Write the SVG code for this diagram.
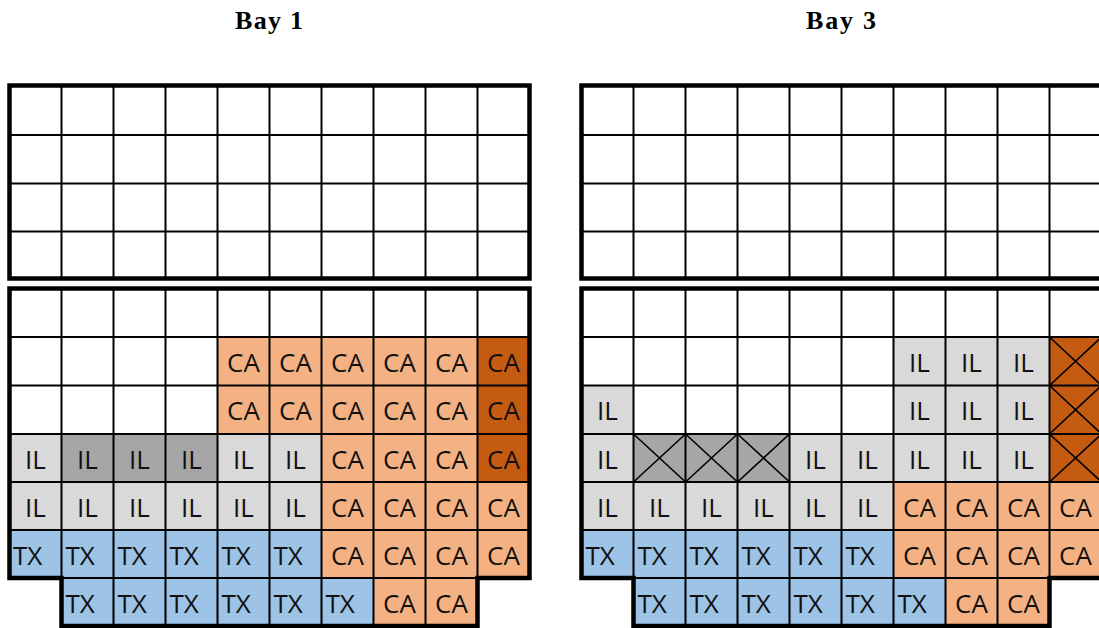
<svg xmlns="http://www.w3.org/2000/svg" width="1099" height="628" viewBox="0 0 1099 628">
<style>
.bg{fill:#fff}
.ca{fill:#F4B183}
.cad{fill:#C55A11}
.il{fill:#D9D9D9}
.ild{fill:#A6A6A6}
.tx{fill:#9DC3E6}
.grid{fill:none;stroke:#000;stroke-width:2}
.border{fill:none;stroke:#000;stroke-width:4.5;stroke-linejoin:miter}
.xl{fill:none;stroke:#000;stroke-width:1.6}
.t{font-family:"Open Sans","Liberation Sans",sans-serif;font-size:26px;fill:#111;text-anchor:middle}
.ts{font-family:"Open Sans","Liberation Sans",sans-serif;font-size:26px;fill:#111;text-anchor:start}
.title{font-family:"Liberation Serif","Times New Roman",serif;font-size:26px;font-weight:bold;fill:#000}
</style>
<rect class="bg" x="0" y="0" width="1099" height="628"/>

<g id="titles">
<text class="title" x="235" y="29" textLength="68" lengthAdjust="spacing">Bay 1</text>
<text class="title" x="806" y="29" textLength="70" lengthAdjust="spacing">Bay 3</text>
</g>

<g id="bay1">
<g id="bay1-fills">
<rect class="ca" x="217.5" y="337" width="260" height="48.5"/>
<rect class="cad" x="477.5" y="337" width="52" height="48.5"/>
<rect class="ca" x="217.5" y="385.5" width="260" height="48.5"/>
<rect class="cad" x="477.5" y="385.5" width="52" height="48.5"/>
<rect class="il" x="9.5" y="434" width="52" height="48"/>
<rect class="ild" x="61.5" y="434" width="156" height="48"/>
<rect class="il" x="217.5" y="434" width="104" height="48"/>
<rect class="ca" x="321.5" y="434" width="156" height="48"/>
<rect class="cad" x="477.5" y="434" width="52" height="48"/>
<rect class="il" x="9.5" y="482" width="312" height="48"/>
<rect class="ca" x="321.5" y="482" width="208" height="48"/>
<rect class="tx" x="9.5" y="530" width="312" height="48"/>
<rect class="ca" x="321.5" y="530" width="208" height="48"/>
<rect class="tx" x="61.5" y="578" width="312" height="48"/>
<rect class="ca" x="373.5" y="578" width="104" height="48"/>
</g>
<path class="grid" d="M61.5 85.5V278.5M113.5 85.5V278.5M165.5 85.5V278.5M217.5 85.5V278.5M269.5 85.5V278.5M321.5 85.5V278.5M373.5 85.5V278.5M425.5 85.5V278.5M477.5 85.5V278.5M9.5 135H529.5M9.5 183.5H529.5M9.5 231.5H529.5
M61.5 288.5V578M477.5 288.5V578M113.5 288.5V626M165.5 288.5V626M217.5 288.5V626M269.5 288.5V626M321.5 288.5V626M373.5 288.5V626M425.5 288.5V626
M9.5 337H529.5M9.5 385.5H529.5M9.5 434H529.5M9.5 482H529.5M9.5 530H529.5M61.5 578H477.5"/>
<rect class="border" x="9.5" y="85.5" width="520" height="193"/>
<path class="border" d="M9.5 288.5H529.5V578H477.5V626H61.5V578H9.5Z"/>
<g id="bay1-labels">
<text class="t" x="243.5" y="372">CA</text><text class="t" x="295.5" y="372">CA</text><text class="t" x="347.5" y="372">CA</text><text class="t" x="399.5" y="372">CA</text><text class="t" x="451.5" y="372">CA</text><text class="t" x="503.5" y="372">CA</text>
<text class="t" x="243.5" y="420">CA</text><text class="t" x="295.5" y="420">CA</text><text class="t" x="347.5" y="420">CA</text><text class="t" x="399.5" y="420">CA</text><text class="t" x="451.5" y="420">CA</text><text class="t" x="503.5" y="420">CA</text>
<text class="t" x="35.5" y="468.5">IL</text><text class="t" x="87.5" y="468.5">IL</text><text class="t" x="139.5" y="468.5">IL</text><text class="t" x="191.5" y="468.5">IL</text><text class="t" x="243.5" y="468.5">IL</text><text class="t" x="295.5" y="468.5">IL</text><text class="t" x="347.5" y="468.5">CA</text><text class="t" x="399.5" y="468.5">CA</text><text class="t" x="451.5" y="468.5">CA</text><text class="t" x="503.5" y="468.5">CA</text>
<text class="t" x="35.5" y="516.5">IL</text><text class="t" x="87.5" y="516.5">IL</text><text class="t" x="139.5" y="516.5">IL</text><text class="t" x="191.5" y="516.5">IL</text><text class="t" x="243.5" y="516.5">IL</text><text class="t" x="295.5" y="516.5">IL</text><text class="t" x="347.5" y="516.5">CA</text><text class="t" x="399.5" y="516.5">CA</text><text class="t" x="451.5" y="516.5">CA</text><text class="t" x="503.5" y="516.5">CA</text>
<text class="ts" x="13" y="564.5">TX</text><text class="ts" x="65.5" y="564.5">TX</text><text class="ts" x="117.5" y="564.5">TX</text><text class="ts" x="169.5" y="564.5">TX</text><text class="ts" x="221.5" y="564.5">TX</text><text class="ts" x="273.5" y="564.5">TX</text><text class="t" x="347.5" y="564.5">CA</text><text class="t" x="399.5" y="564.5">CA</text><text class="t" x="451.5" y="564.5">CA</text><text class="t" x="503.5" y="564.5">CA</text>
<text class="ts" x="65.5" y="612.5">TX</text><text class="ts" x="117.5" y="612.5">TX</text><text class="ts" x="169.5" y="612.5">TX</text><text class="ts" x="221.5" y="612.5">TX</text><text class="ts" x="273.5" y="612.5">TX</text><text class="ts" x="325.5" y="612.5">TX</text><text class="t" x="399.5" y="612.5">CA</text><text class="t" x="451.5" y="612.5">CA</text>
</g>
</g>

<g id="bay3">
<g id="bay3-fills">
<rect class="il" x="893.5" y="337" width="156" height="48.5"/>
<rect class="cad" x="1049.5" y="337" width="52" height="48.5"/>
<rect class="il" x="581.5" y="385.5" width="52" height="48.5"/>
<rect class="il" x="893.5" y="385.5" width="156" height="48.5"/>
<rect class="cad" x="1049.5" y="385.5" width="52" height="48.5"/>
<rect class="il" x="581.5" y="434" width="52" height="48"/>
<rect class="ild" x="633.5" y="434" width="156" height="48"/>
<rect class="il" x="789.5" y="434" width="260" height="48"/>
<rect class="cad" x="1049.5" y="434" width="52" height="48"/>
<rect class="il" x="581.5" y="482" width="312" height="48"/>
<rect class="ca" x="893.5" y="482" width="208" height="48"/>
<rect class="tx" x="581.5" y="530" width="312" height="48"/>
<rect class="ca" x="893.5" y="530" width="208" height="48"/>
<rect class="tx" x="633.5" y="578" width="312" height="48"/>
<rect class="ca" x="945.5" y="578" width="104" height="48"/>
</g>
<path class="xl" d="M1049.5 337L1101.5 385.5M1101.5 337L1049.5 385.5M1049.5 385.5L1101.5 434M1101.5 385.5L1049.5 434M1049.5 434L1101.5 482M1101.5 434L1049.5 482
M633.5 434L685.5 482M685.5 434L633.5 482M685.5 434L737.5 482M737.5 434L685.5 482M737.5 434L789.5 482M789.5 434L737.5 482"/>
<path class="grid" d="M633.5 85.5V278.5M685.5 85.5V278.5M737.5 85.5V278.5M789.5 85.5V278.5M841.5 85.5V278.5M893.5 85.5V278.5M945.5 85.5V278.5M997.5 85.5V278.5M1049.5 85.5V278.5M581.5 135H1101.5M581.5 183.5H1101.5M581.5 231.5H1101.5
M633.5 288.5V578M1049.5 288.5V578M685.5 288.5V626M737.5 288.5V626M789.5 288.5V626M841.5 288.5V626M893.5 288.5V626M945.5 288.5V626M997.5 288.5V626
M581.5 337H1101.5M581.5 385.5H1101.5M581.5 434H1101.5M581.5 482H1101.5M581.5 530H1101.5M633.5 578H1049.5"/>
<rect class="border" x="581.5" y="85.5" width="520" height="193"/>
<path class="border" d="M581.5 288.5H1101.5V578H1049.5V626H633.5V578H581.5Z"/>
<g id="bay3-labels">
<text class="t" x="919.5" y="372">IL</text><text class="t" x="971.5" y="372">IL</text><text class="t" x="1023.5" y="372">IL</text>
<text class="t" x="607.5" y="420">IL</text><text class="t" x="919.5" y="420">IL</text><text class="t" x="971.5" y="420">IL</text><text class="t" x="1023.5" y="420">IL</text>
<text class="t" x="607.5" y="468.5">IL</text><text class="t" x="815.5" y="468.5">IL</text><text class="t" x="867.5" y="468.5">IL</text><text class="t" x="919.5" y="468.5">IL</text><text class="t" x="971.5" y="468.5">IL</text><text class="t" x="1023.5" y="468.5">IL</text>
<text class="t" x="607.5" y="516.5">IL</text><text class="t" x="659.5" y="516.5">IL</text><text class="t" x="711.5" y="516.5">IL</text><text class="t" x="763.5" y="516.5">IL</text><text class="t" x="815.5" y="516.5">IL</text><text class="t" x="867.5" y="516.5">IL</text><text class="t" x="919.5" y="516.5">CA</text><text class="t" x="971.5" y="516.5">CA</text><text class="t" x="1023.5" y="516.5">CA</text><text class="t" x="1075.5" y="516.5">CA</text>
<text class="ts" x="585.5" y="564.5">TX</text><text class="ts" x="637.5" y="564.5">TX</text><text class="ts" x="689.5" y="564.5">TX</text><text class="ts" x="741.5" y="564.5">TX</text><text class="ts" x="793.5" y="564.5">TX</text><text class="ts" x="845.5" y="564.5">TX</text><text class="t" x="919.5" y="564.5">CA</text><text class="t" x="971.5" y="564.5">CA</text><text class="t" x="1023.5" y="564.5">CA</text><text class="t" x="1075.5" y="564.5">CA</text>
<text class="ts" x="637.5" y="612.5">TX</text><text class="ts" x="689.5" y="612.5">TX</text><text class="ts" x="741.5" y="612.5">TX</text><text class="ts" x="793.5" y="612.5">TX</text><text class="ts" x="845.5" y="612.5">TX</text><text class="ts" x="897.5" y="612.5">TX</text><text class="t" x="971.5" y="612.5">CA</text><text class="t" x="1023.5" y="612.5">CA</text>
</g>
</g>
</svg>
